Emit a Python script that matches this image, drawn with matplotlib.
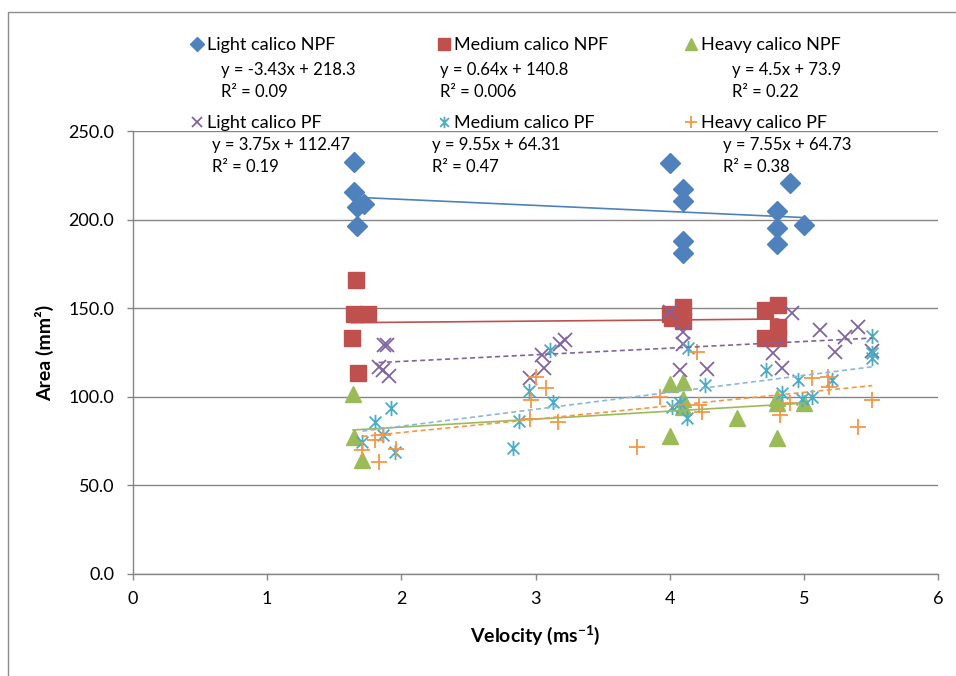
import numpy as np
import matplotlib
matplotlib.use('Agg')
import matplotlib.pyplot as plt
from matplotlib.path import Path
from matplotlib.patches import Rectangle

plt.rcParams['font.family'] = ['Lato', 'DejaVu Sans']
plt.rcParams['mathtext.fontset'] = 'custom'
plt.rcParams['mathtext.rm'] = 'Lato'
plt.rcParams['mathtext.bf'] = 'Lato:bold'

# data
light_npf_x = [1.65, 1.65, 1.67, 1.72, 1.67, 4.0, 4.1, 4.1, 4.1, 4.1, 4.9, 4.8, 4.8, 4.8, 5.0]
light_npf_y = [232.5, 215.5, 207, 209, 196.5, 232, 217, 210.5, 188, 181, 220.5, 205, 195, 186, 197]

medium_npf_x = [1.66, 1.65, 1.75, 1.63, 1.68, 4.0, 4.1, 4.1, 4.02, 4.71, 4.81, 4.81, 4.71, 4.81]
medium_npf_y = [166, 146.5, 147, 133, 113.5, 147, 150.5, 143, 144.5, 149, 152, 139.5, 133, 133]

heavy_npf_x = [1.64, 1.65, 1.71, 4.0, 4.1, 4.1, 4.1, 4.0, 4.5, 4.8, 4.8, 4.8, 5.0]
heavy_npf_y = [101.5, 77.5, 64.5, 107, 108.5, 99, 94, 78, 88, 96.5, 99.5, 77, 96.5]

light_pf_x = [1.87, 1.89, 1.83, 1.86, 1.91, 2.96, 3.05, 3.06, 3.18, 3.22, 4.0, 4.1, 4.1, 4.08, 4.28,
              4.91, 4.77, 4.84, 5.12, 5.23, 5.31, 5.40, 5.51]
light_pf_y = [129, 129.5, 117, 115, 111.5, 110.5, 123.5, 116, 130, 132, 148, 136.5, 130, 115, 115.5,
              147.5, 124.5, 116, 137.5, 125.5, 134, 139.5, 126]

medium_pf_x = [1.92, 1.80, 1.86, 1.71, 1.95, 2.95, 3.11, 3.13, 2.88, 2.83, 4.14, 4.26, 4.02, 4.08, 4.13,
               4.72, 4.84, 4.96, 4.99, 5.06, 5.21, 5.51, 5.51, 5.51]
medium_pf_y = [93.5, 86, 78.5, 74.5, 69, 103.5, 126.5, 97, 86.5, 71, 127.5, 106.5, 94, 96.5, 88,
               115, 102, 109.5, 98.5, 100, 109.5, 134.5, 125, 122]

heavy_pf_x = [1.86, 1.80, 1.71, 1.83, 1.96, 3.0, 3.08, 2.97, 2.96, 3.17, 3.76, 4.2, 3.93, 4.22, 4.24,
              4.82, 4.90, 5.06, 5.18, 5.19, 5.51, 5.40]
heavy_pf_y = [78.5, 75.5, 70, 63, 70.5, 111, 105, 98, 87.5, 86, 71.5, 125.5, 100, 95.5, 91.5,
              89.5, 96.5, 110.5, 111, 105.5, 98, 83]

# trendline equations as printed on the chart (slope, intercept, r2)
light_npf_fit = (-3.43, 218.3, '0.09')
medium_npf_fit = (0.64, 140.8, '0.006')
heavy_npf_fit = (4.5, 73.9, '0.22')
light_pf_fit = (3.75, 112.47, '0.19')
medium_pf_fit = (9.55, 64.31, '0.47')
heavy_pf_fit = (7.55, 64.73, '0.38')

# Excel-style star: an x with a vertical bar
star = Path([(-1, -1), (1, 1), (-1, 1), (1, -1), (0, -1.3), (0, 1.3)],
            [Path.MOVETO, Path.LINETO, Path.MOVETO, Path.LINETO, Path.MOVETO, Path.LINETO])

series = [
    ('Light calico NPF', light_npf_x, light_npf_y, light_npf_fit,
     dict(marker='D', ms=10, color='#4F81BD', mec='#4F81BD'), '#4F81BD', '-'),
    ('Medium calico NPF', medium_npf_x, medium_npf_y, medium_npf_fit,
     dict(marker='s', ms=11, color='#C0504D', mec='#C0504D'), '#C0504D', '-'),
    ('Heavy calico NPF', heavy_npf_x, heavy_npf_y, heavy_npf_fit,
     dict(marker='^', ms=12, color='#9BBB59', mec='#9BBB59'), '#9BBB59', '-'),
    ('Light calico PF', light_pf_x, light_pf_y, light_pf_fit,
     dict(marker='x', ms=10, mew=1.3, color='#8064A2'), '#8064A2', '--'),
    ('Medium calico PF', medium_pf_x, medium_pf_y, medium_pf_fit,
     dict(marker=star, ms=11, mew=1.3, color='#4BACC6'), '#8DB4E2', '--'),
    ('Heavy calico PF', heavy_pf_x, heavy_pf_y, heavy_pf_fit,
     dict(marker='+', ms=12, mew=1.3, color='#F79646'), '#F79646', '--'),
]

W, H = 956, 676
fig = plt.figure(figsize=(W / 100, H / 100), dpi=100)
ax = fig.add_axes([133 / W, 102 / H, 805 / W, 443 / H])

handles = []
for name, xs, ys, fit, style, tcol, tls in series:
    h, = ax.plot(xs, ys, ls='none', label=name, zorder=3, **style)
    handles.append(h)
    xx = np.array([min(xs), max(xs)])
    ax.plot(xx, fit[0] * xx + fit[1], color=tcol, ls=tls, lw=1.2,
            dashes=(3, 2) if tls == '--' else (None, None), zorder=4)

ax.set_xlim(0, 6)
ax.set_ylim(0, 250)
ax.set_xticks(range(7))
ax.set_yticks(np.arange(0, 251, 50))
ax.set_yticklabels([f'{v:.1f}' for v in np.arange(0, 251, 50)])
ax.grid(axis='y', color='#868686', lw=1)
ax.set_axisbelow(True)
for s in ['top', 'right']:
    ax.spines[s].set_visible(False)
for s in ['left', 'bottom']:
    ax.spines[s].set_color('#868686')
    ax.spines[s].set_linewidth(1)
ax.tick_params(axis='both', colors='#868686', labelcolor='black', labelsize=13, length=4.5, width=1)
ax.tick_params(axis='y', pad=9)
ax.tick_params(axis='x', pad=8)
ax.set_xlabel('Velocity (ms$^{\\mathbf{-1}}$)', fontsize=14, fontweight='bold', labelpad=11)
ax.set_ylabel('Area (mm²)', fontsize=14, fontweight='bold', labelpad=10)

# legend: one column per fabric weight, NPF on top row, PF below
col_x = [190, 437, 684]
for i in range(3):
    leg = fig.legend(handles=[handles[i], handles[i + 3]], loc='upper left',
                     bbox_to_anchor=(col_x[i] / W, 1 - 37 / H), frameon=False,
                     fontsize=13, labelspacing=3.45, handlelength=0.8, markerscale=0.75,
                     handletextpad=0.15, borderpad=0, borderaxespad=0)

# trendline labels
eq_pos = [(221, 70), (440, 70), (732, 70), (212, 145), (432, 145), (723, 145)]
for (name, xs, ys, fit, style, tcol, tls), (px, py) in zip(series, eq_pos):
    sign = '-' if fit[1] < 0 else '+'
    fig.text(px / W, 1 - py / H, f'y = {fit[0]:g}x {sign} {abs(fit[1]):g}', fontsize=12, va='center')
    fig.text(px / W, 1 - (py + 22) / H, f'R² = {fit[2]}', fontsize=12, va='center')

# outer chart frame
fig.add_artist(Rectangle((8 / W, -0.1), 1.2, 1.1 - 12 / H, transform=fig.transFigure,
                         fill=False, ec='#8C8C8C', lw=1))

fig.savefig('out.png', dpi=100)
